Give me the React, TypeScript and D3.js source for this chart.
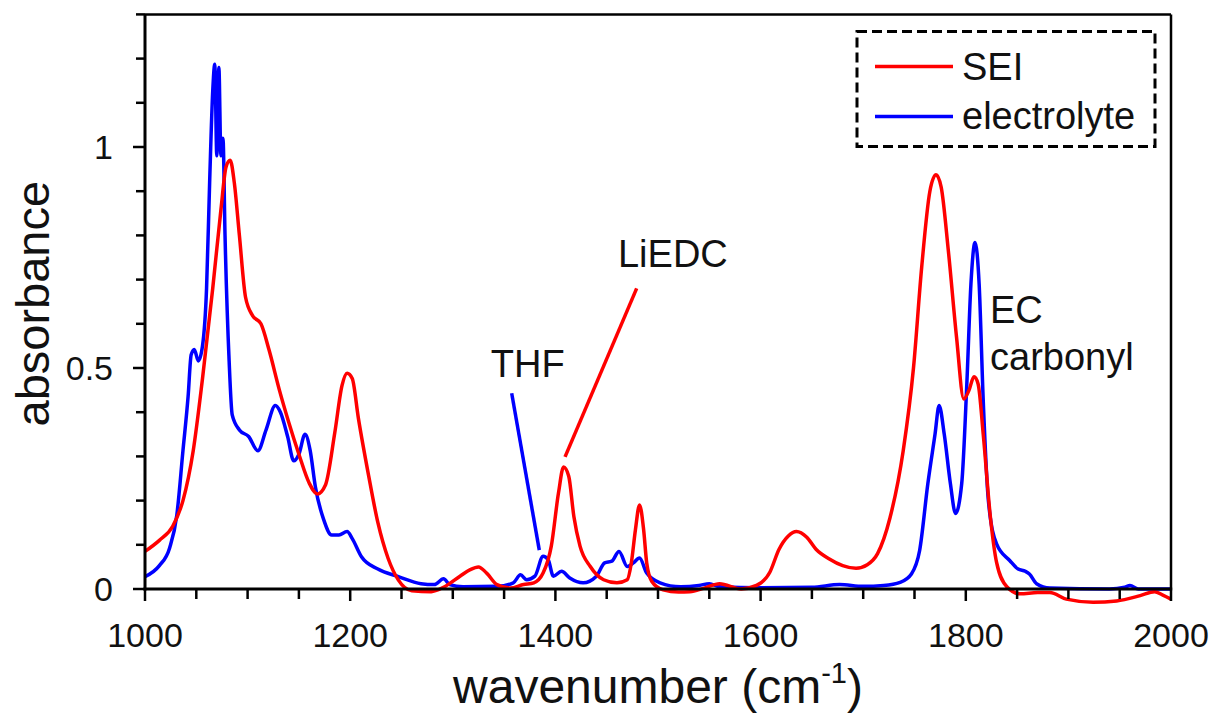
import React from "react";
import * as d3 from "d3";

const seiWavenumber = [1000,1014,1027,1037,1047,1056,1066,1074,1079,1083,1087,1092,1098,1105,1113,1121,1131,1140,1150,1160,1168,1176,1185,1192,1197,1202,1208,1218,1227,1237,1247,1260,1279,1291,1307,1317,1325,1333,1343,1356,1369,1379,1388,1396,1403,1408,1413,1418,1424,1434,1447,1460,1470,1474,1478,1482,1486,1489,1494,1505,1520,1531,1545,1560,1581,1596,1609,1618,1627,1635,1645,1654,1667,1680,1693,1704,1714,1726,1739,1749,1757,1765,1771,1776,1783,1791,1798,1803,1808,1812,1817,1824,1830,1840,1853,1870,1882,1898,1924,1947,1970,1984,1992,2000];
const seiAbsorbance = [0.085,0.11,0.142,0.2,0.313,0.475,0.68,0.858,0.955,0.97,0.92,0.8,0.66,0.618,0.6,0.54,0.45,0.378,0.305,0.24,0.215,0.236,0.354,0.46,0.488,0.476,0.386,0.256,0.15,0.069,0.02,-0.004,-0.006,0.004,0.029,0.044,0.05,0.036,0.01,0.002,0.01,0.014,0.036,0.097,0.217,0.276,0.255,0.164,0.097,0.051,0.021,0.014,0.021,0.059,0.134,0.19,0.134,0.059,0.017,-0.002,-0.007,-0.006,0.002,0.012,0.0,0.008,0.038,0.09,0.12,0.13,0.117,0.09,0.068,0.053,0.047,0.055,0.08,0.16,0.313,0.5,0.728,0.9,0.937,0.909,0.765,0.569,0.43,0.449,0.48,0.464,0.35,0.162,0.06,0.005,-0.011,-0.008,-0.008,-0.023,-0.03,-0.027,-0.015,-0.006,-0.014,-0.023];

const elecWavenumber = [1000,1014,1024,1031,1037,1042,1045,1048,1052,1056,1060,1063,1066,1068,1070,1072,1074,1076,1078,1082,1085,1092,1101,1110,1118,1127,1132,1139,1145,1150,1156,1161,1166,1174,1182,1189,1197,1202,1211,1227,1247,1269,1282,1291,1297,1310,1343,1359,1366,1372,1380,1388,1393,1398,1406,1414,1427,1440,1448,1455,1462,1470,1476,1482,1489,1502,1522,1540,1550,1560,1600,1650,1677,1700,1720,1736,1747,1755,1763,1770,1774,1779,1785,1790,1796,1801,1805,1809,1813,1817,1822,1830,1843,1851,1858,1862,1869,1882,1940,1955,1960,1968,2000];
const elecAbsorbance = [0.028,0.053,0.093,0.167,0.313,0.435,0.53,0.542,0.516,0.549,0.68,0.92,1.126,1.187,0.98,1.18,0.98,1.02,0.8,0.516,0.394,0.36,0.345,0.313,0.36,0.415,0.4,0.345,0.29,0.305,0.35,0.313,0.232,0.158,0.122,0.122,0.13,0.114,0.073,0.045,0.028,0.012,0.01,0.023,0.01,0.005,0.006,0.014,0.032,0.021,0.029,0.074,0.066,0.029,0.04,0.025,0.014,0.029,0.059,0.063,0.085,0.051,0.059,0.07,0.036,0.014,0.005,0.008,0.012,0.005,0.003,0.004,0.01,0.006,0.008,0.015,0.034,0.087,0.238,0.35,0.415,0.35,0.238,0.171,0.238,0.464,0.69,0.784,0.69,0.426,0.2,0.102,0.064,0.045,0.04,0.034,0.012,0.002,0.0,0.004,0.008,0.0,0.0];

const xTickLabels = [1000, 1200, 1400, 1600, 1800, 2000];
const yTickLabels = [0, 0.5, 1];
const seriesNames = ["SEI", "electrolyte"];
const seriesColors = ["#ff0000", "#0000ff"];

const annotations = [
  { text: "THF", x: 1337, y: 0.48, color: "#0000ff", line: [[1357.4, 0.443], [1384.3, 0.088]] },
  { text: "LiEDC", x: 1461, y: 0.729, color: "#ff0000", line: [[1479.2, 0.68], [1409.4, 0.299]] },
];
const ecLabel = ["EC", "carbonyl"];
const ecPos = { x: 1823.6, y1: 0.602, y2: 0.495 };

const FONT = "'Liberation Sans', Arial, Helvetica, sans-serif";

export default function App() {
  const W = 1216, H = 713;
  const x = d3.scaleLinear().domain([1000, 2000]).range([145, 1171]);
  const y = d3.scaleLinear().domain([0, 1.3]).range([589, 14.4]);

  const line = d3
    .line<[number, number]>()
    .x((d) => x(d[0]))
    .y((d) => y(d[1]))
    .curve(d3.curveMonotoneX);

  const sei: [number, number][] = seiWavenumber.map((w, i) => [w, seiAbsorbance[i]]);
  const elec: [number, number][] = elecWavenumber.map((w, i) => [w, elecAbsorbance[i]]);

  const xMinor = d3.range(1000, 2001, 50);
  const yMinor = d3.range(0, 13.01, 1).map((v) => v / 10);

  const x0 = x(1000), x1 = x(2000), yb = y(0), yt = y(1.3);

  return (
    <svg width={W} height={H} style={{ position: "absolute", left: 0, top: 0, background: "#fff" }} fontFamily={FONT}>
      <rect x={0} y={0} width={W} height={H} fill="#fff" />
      {/* curves */}
      <path d={line(elec) || ""} fill="none" stroke={seriesColors[1]} strokeWidth={3.5} strokeLinejoin="round" />
      <path d={line(sei) || ""} fill="none" stroke={seriesColors[0]} strokeWidth={3.5} strokeLinejoin="round" />

      {/* frame */}
      <line x1={x0} y1={yt} x2={x1} y2={yt} stroke="#000" strokeWidth={2.5} />
      <line x1={x1} y1={yt} x2={x1} y2={yb} stroke="#000" strokeWidth={2.5} />
      <line x1={x0} y1={yt} x2={x0} y2={yb + 1.5} stroke="#000" strokeWidth={3} />
      <line x1={x0 - 1.5} y1={yb} x2={x1 + 1.2} y2={yb} stroke="#000" strokeWidth={3} />

      {/* y ticks */}
      {yMinor.map((v, i) => {
        const major = Math.abs(v * 2 - Math.round(v * 2)) < 1e-6;
        return (
          <line key={"yt" + i} x1={x0 - (major ? 12 : 9)} x2={x0} y1={y(v)} y2={y(v)} stroke="#000" strokeWidth={2.5} />
        );
      })}
      {yTickLabels.map((v) => (
        <text key={"yl" + v} x={113} y={y(v)} dy="0.36em" textAnchor="end" fontSize={34} fill="#111">
          {String(v)}
        </text>
      ))}

      {/* x ticks */}
      {xMinor.map((v) => {
        const major = v % 200 === 0;
        return (
          <line key={"xt" + v} x1={x(v)} x2={x(v)} y1={yb} y2={yb + (major ? 12 : 10)} stroke="#000" strokeWidth={2.5} />
        );
      })}
      {xTickLabels.map((v) => (
        <text key={"xl" + v} x={x(v)} y={647} textAnchor="middle" fontSize={34} fill="#111">
          {String(v)}
        </text>
      ))}

      {/* axis titles */}
      <text x={(x0 + x1) / 2} y={703} textAnchor="middle" fontSize={48} fill="#111">
        wavenumber (cm
        <tspan fontSize={29} dy={-20}>-1</tspan>
        <tspan dy={20}>)</tspan>
      </text>
      <text transform={`translate(49, ${(yt + yb) / 2 + 2}) rotate(-90)`} textAnchor="middle" fontSize={47} fill="#111">
        absorbance
      </text>

      {/* annotations */}
      {annotations.map((a) => (
        <g key={a.text}>
          <text x={x(a.x)} y={y(a.y)} fontSize={38} fill="#111">{a.text}</text>
          <line
            x1={x(a.line[0][0])}
            y1={y(a.line[0][1])}
            x2={x(a.line[1][0])}
            y2={y(a.line[1][1])}
            stroke={a.color}
            strokeWidth={3.5}
          />
        </g>
      ))}
      <text x={x(ecPos.x)} y={y(ecPos.y1)} fontSize={38} fill="#111">{ecLabel[0]}</text>
      <text x={x(ecPos.x)} y={y(ecPos.y2)} fontSize={38} fill="#111">{ecLabel[1]}</text>

      {/* legend */}
      <rect x={857} y={31.5} width={298} height={115} fill="#fff" stroke="#000" strokeWidth={3} strokeDasharray="10 5" />
      {seriesNames.map((n, i) => (
        <g key={n}>
          <line x1={875} x2={953} y1={66.5 + i * 50} y2={66.5 + i * 50} stroke={seriesColors[i]} strokeWidth={3.5} />
          <text x={962} y={80 + i * 49} fontSize={38} fill="#111">{n}</text>
        </g>
      ))}
    </svg>
  );
}
